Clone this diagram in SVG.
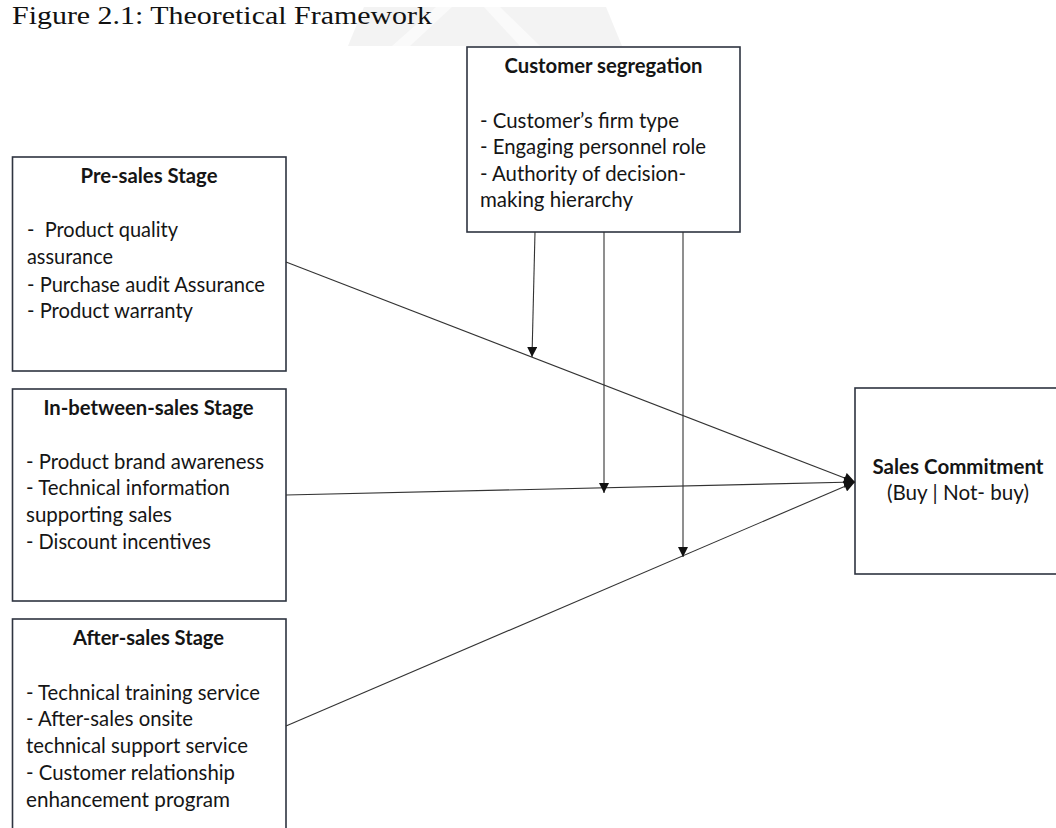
<svg xmlns="http://www.w3.org/2000/svg" width="1056" height="828" viewBox="0 0 1056 828">
  <style>
    .box { fill: #ffffff; stroke: #2e3440; stroke-width: 1.6; }
    .title { font-family: "Liberation Serif", "Times New Roman", serif; font-size: 26px; fill: #111111; }
    .head { font-family: Lato, "Open Sans", sans-serif; font-weight: bold; font-size: 21px; fill: #151515; }
    .body { font-family: Lato, "Open Sans", sans-serif; font-size: 21.5px; fill: #151515; }
    .conn { stroke: #333333; stroke-width: 1.1; fill: none; }
  </style>
  <defs>
    <marker id="arrSmall" viewBox="0 0 10 10" refX="10" refY="5" markerWidth="11" markerHeight="10" markerUnits="userSpaceOnUse" orient="auto">
      <path d="M0,0 L10,5 L0,10 z" fill="#111111"/>
    </marker>
    <marker id="arrBig" viewBox="0 0 10 10" refX="10" refY="5" markerWidth="12" markerHeight="11" markerUnits="userSpaceOnUse" orient="auto">
      <path d="M0,0 L10,5 L0,10 z" fill="#111111"/>
    </marker>
  </defs>

  <rect x="0" y="0" width="1056" height="828" fill="#ffffff"/>

  <!-- faint watermark -->
  <g id="watermark" opacity="0.6">
    <polygon points="364,7 606,7 622,46 348,46" fill="#ececec"/>
    <polygon points="392,46 410,46 452,7 436,7" fill="#f8f8f8"/>
    <polygon points="520,46 540,46 500,7 484,7" fill="#f8f8f8"/>
  </g>

  <text class="title" x="12" y="24" textLength="420" lengthAdjust="spacingAndGlyphs">Figure 2.1: Theoretical Framework</text>

  <g id="node-customer-segregation">
    <rect class="box" x="467" y="47" width="273" height="185"/>
    <text class="head" x="603.5" y="73" text-anchor="middle" textLength="198" lengthAdjust="spacingAndGlyphs">Customer segregation</text>
    <text class="body" x="480" y="128" textLength="199" lengthAdjust="spacingAndGlyphs">- Customer’s firm type</text>
    <text class="body" x="480" y="154" textLength="226" lengthAdjust="spacingAndGlyphs">- Engaging personnel role</text>
    <text class="body" x="480" y="181" textLength="206" lengthAdjust="spacingAndGlyphs">- Authority of decision-</text>
    <text class="body" x="480" y="207" textLength="153" lengthAdjust="spacingAndGlyphs">making hierarchy</text>
  </g>

  <g id="node-pre-sales">
    <rect class="box" x="12.5" y="157" width="273.5" height="214"/>
    <text class="head" x="149" y="183" text-anchor="middle" textLength="137" lengthAdjust="spacingAndGlyphs">Pre-sales Stage</text>
    <text class="body" x="27" y="237" xml:space="preserve" textLength="151" lengthAdjust="spacingAndGlyphs">-  Product quality</text>
    <text class="body" x="27" y="264" textLength="86" lengthAdjust="spacingAndGlyphs">assurance</text>
    <text class="body" x="27" y="292" textLength="238" lengthAdjust="spacingAndGlyphs">- Purchase audit Assurance</text>
    <text class="body" x="27" y="318" textLength="166" lengthAdjust="spacingAndGlyphs">- Product warranty</text>
  </g>

  <g id="node-in-between-sales">
    <rect class="box" x="12.5" y="389" width="273.5" height="212"/>
    <text class="head" x="148.5" y="415" text-anchor="middle" textLength="210" lengthAdjust="spacingAndGlyphs">In-between-sales Stage</text>
    <text class="body" x="26" y="469" textLength="238" lengthAdjust="spacingAndGlyphs">- Product brand awareness</text>
    <text class="body" x="26" y="495" textLength="204" lengthAdjust="spacingAndGlyphs">- Technical information</text>
    <text class="body" x="26" y="522" textLength="146" lengthAdjust="spacingAndGlyphs">supporting sales</text>
    <text class="body" x="26" y="549" textLength="185" lengthAdjust="spacingAndGlyphs">- Discount incentives</text>
  </g>

  <g id="node-after-sales">
    <rect class="box" x="12.5" y="619" width="273.5" height="230"/>
    <text class="head" x="148.5" y="645" text-anchor="middle" textLength="151" lengthAdjust="spacingAndGlyphs">After-sales Stage</text>
    <text class="body" x="26" y="700" textLength="234" lengthAdjust="spacingAndGlyphs">- Technical training service</text>
    <text class="body" x="26" y="726" textLength="167" lengthAdjust="spacingAndGlyphs">- After-sales onsite</text>
    <text class="body" x="26" y="753" textLength="222" lengthAdjust="spacingAndGlyphs">technical support service</text>
    <text class="body" x="26" y="780" textLength="209" lengthAdjust="spacingAndGlyphs">- Customer relationship</text>
    <text class="body" x="26" y="807" textLength="204" lengthAdjust="spacingAndGlyphs">enhancement program</text>
  </g>

  <g id="node-sales-commitment">
    <rect class="box" x="855" y="388" width="230" height="186"/>
    <text class="head" x="958" y="474" text-anchor="middle" textLength="171" lengthAdjust="spacingAndGlyphs">Sales Commitment</text>
    <text class="body" x="958" y="500" text-anchor="middle" textLength="142" lengthAdjust="spacingAndGlyphs">(Buy | Not- buy)</text>
  </g>

  <g id="connectors">
    <line class="conn" x1="286" y1="262" x2="855" y2="482" marker-end="url(#arrBig)"/>
    <line class="conn" x1="286" y1="495" x2="855" y2="482" marker-end="url(#arrBig)"/>
    <line class="conn" x1="286" y1="726" x2="855" y2="482" marker-end="url(#arrBig)"/>
    <line class="conn" x1="535" y1="232" x2="532" y2="357" marker-end="url(#arrSmall)"/>
    <line class="conn" x1="604" y1="232" x2="604" y2="493" marker-end="url(#arrSmall)"/>
    <line class="conn" x1="683" y1="232" x2="683" y2="557" marker-end="url(#arrSmall)"/>
  </g>
</svg>
